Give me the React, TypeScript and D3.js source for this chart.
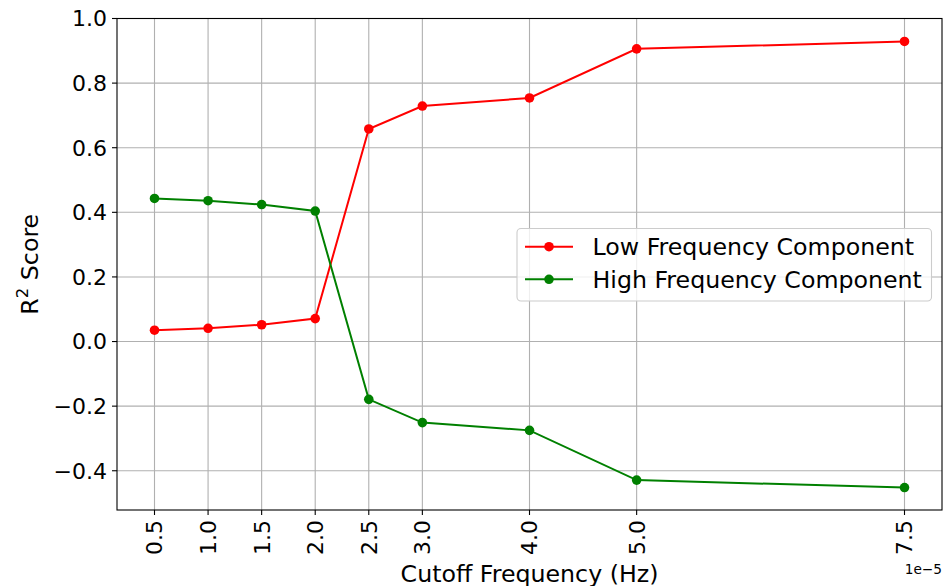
import React, { useEffect, useRef } from 'react';
import * as d3 from 'd3';

const cutoffs = [0.5, 1.0, 1.5, 2.0, 2.5, 3.0, 4.0, 5.0, 7.5];
const tickLabels = ['0.5', '1.0', '1.5', '2.0', '2.5', '3.0', '4.0', '5.0', '7.5'];
const lowFreq = [0.035, 0.041, 0.052, 0.071, 0.658, 0.729, 0.754, 0.906, 0.929];
const highFreq = [0.443, 0.436, 0.424, 0.404, -0.179, -0.251, -0.275, -0.429, -0.452];
const seriesNames = ['Low Frequency Component', 'High Frequency Component'];
const seriesColors = ['#ff0000', '#008000'];
const yTicks = [-0.4, -0.2, 0.0, 0.2, 0.4, 0.6, 0.8, 1.0];

const W = 948;
const H = 586;
const FONT = 'DejaVu Sans, sans-serif';
const LABEL_SIZE = 23.7;

const App = () => {
    const ref = useRef<SVGSVGElement>(null);

    useEffect(() => {
        const svg = d3.select(ref.current);
        svg.selectAll('*').remove();

        const left = 117, right = 942, top = 18.5, bottom = 510;

        const x = d3.scaleLinear().domain([0.15, 7.85]).range([left, right]);
        const y = d3.scaleLinear().domain([-0.5215, 1.0]).range([bottom, top]);

        svg.append('rect').attr('width', W).attr('height', H).attr('fill', '#fff');

        // grid
        const grid = svg.append('g').attr('stroke', '#b0b0b0').attr('stroke-width', 1.1);
        cutoffs.forEach(v => {
            grid.append('line').attr('x1', x(v)).attr('x2', x(v)).attr('y1', top).attr('y2', bottom);
        });
        yTicks.forEach(v => {
            grid.append('line').attr('x1', left).attr('x2', right).attr('y1', y(v)).attr('y2', y(v));
        });

        // series
        const line = d3.line<number>()
            .x((_, i) => x(cutoffs[i]))
            .y(d => y(d));

        [lowFreq, highFreq].forEach((data, k) => {
            const g = svg.append('g');
            g.append('path')
                .datum(data)
                .attr('fill', 'none')
                .attr('stroke', seriesColors[k])
                .attr('stroke-width', 2)
                .attr('d', line);
            g.selectAll('circle')
                .data(data)
                .enter()
                .append('circle')
                .attr('cx', (_, i) => x(cutoffs[i]))
                .attr('cy', d => y(d))
                .attr('r', 4.8)
                .attr('fill', seriesColors[k]);
        });

        // spines
        svg.append('rect')
            .attr('x', left).attr('y', top)
            .attr('width', right - left).attr('height', bottom - top)
            .attr('fill', 'none').attr('stroke', '#000').attr('stroke-width', 1.1);

        // y ticks
        const yg = svg.append('g').attr('font-family', FONT).attr('font-size', 22);
        yTicks.forEach(v => {
            yg.append('line').attr('x1', left - 5).attr('x2', left).attr('y1', y(v)).attr('y2', y(v))
                .attr('stroke', '#000').attr('stroke-width', 1.1);
            yg.append('text')
                .attr('x', left - 10).attr('y', y(v))
                .attr('dy', '0.36em')
                .attr('text-anchor', 'end')
                .attr('fill', '#000')
                .text(d3.format('.1f')(v).replace('-', '\u2212'));
        });

        // x ticks
        const xg = svg.append('g').attr('font-family', FONT).attr('font-size', 22);
        cutoffs.forEach((v, i) => {
            xg.append('line').attr('x1', x(v)).attr('x2', x(v)).attr('y1', bottom).attr('y2', bottom + 5)
                .attr('stroke', '#000').attr('stroke-width', 1.1);
            xg.append('text')
                .attr('transform', `translate(${x(v)},${bottom + 10}) rotate(-90)`)
                .attr('dy', '0.36em')
                .attr('text-anchor', 'end')
                .attr('fill', '#000')
                .text(tickLabels[i]);
        });

        // offset text
        svg.append('text')
            .attr('x', right).attr('y', 574)
            .attr('text-anchor', 'end')
            .attr('font-family', FONT).attr('font-size', 13.7)
            .attr('fill', '#000')
            .text('1e\u22125');

        // axis labels
        svg.append('text')
            .attr('x', (left + right) / 2).attr('y', 581.5)
            .attr('text-anchor', 'middle')
            .attr('font-family', FONT).attr('font-size', LABEL_SIZE)
            .attr('fill', '#000')
            .text('Cutoff Frequency (Hz)');

        const yl = svg.append('text')
            .attr('transform', `translate(37.5,${(top + bottom) / 2}) rotate(-90)`)
            .attr('text-anchor', 'middle')
            .attr('font-family', FONT).attr('font-size', LABEL_SIZE)
            .attr('fill', '#000');
        yl.append('tspan').text('R');
        yl.append('tspan').attr('font-size', 16.5).attr('dy', -9.5).text('2');
        yl.append('tspan').attr('dy', 9.5).text(' Score');

        // legend
        const lg = svg.append('g').attr('font-family', FONT).attr('font-size', LABEL_SIZE);
        lg.append('rect')
            .attr('x', 517).attr('y', 228.5)
            .attr('width', 414.5).attr('height', 72.5)
            .attr('rx', 4)
            .attr('fill', 'rgba(255,255,255,0.8)')
            .attr('stroke', '#cccccc').attr('stroke-width', 1.1);
        seriesNames.forEach((name, k) => {
            const cy = 246.7 + k * 32.6;
            lg.append('line').attr('x1', 525).attr('x2', 573).attr('y1', cy).attr('y2', cy)
                .attr('stroke', seriesColors[k]).attr('stroke-width', 2);
            lg.append('circle').attr('cx', 549).attr('cy', cy).attr('r', 4.8).attr('fill', seriesColors[k]);
            lg.append('text').attr('x', 592.5).attr('y', cy).attr('dy', '0.36em').attr('fill', '#000').text(name);
        });
    }, []);

    return (
        <svg
            ref={ref}
            width={W}
            height={H}
            style={{ position: 'absolute', left: 0, top: 0, display: 'block' }}
        />
    );
};

export default App;
